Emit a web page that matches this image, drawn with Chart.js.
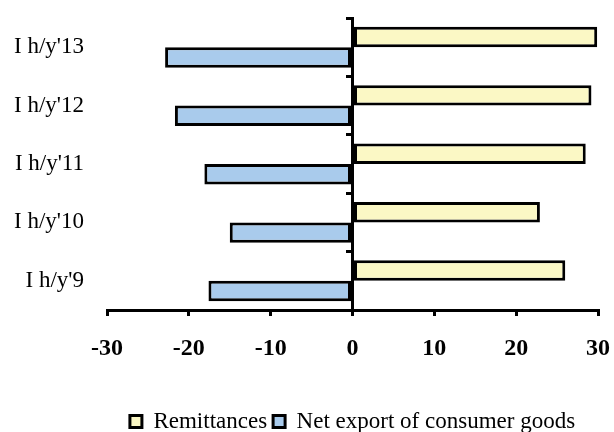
<!DOCTYPE html>
<html>
<head>
<meta charset="utf-8">
<script src="https://cdn.jsdelivr.net/npm/chart.js@4"></script>
<style>
  html, body { margin: 0; padding: 0; background: #fff; }
</style>
</head>
<body>
<canvas id="chart" width="614" height="432"></canvas>
<script>
const categories = ["I h/y'13", "I h/y'12", "I h/y'11", "I h/y'10", "I h/y'9"]
const remittances = [29.9, 29.2, 28.5, 22.9, 26.0]
const netExport = [-22.9, -21.7, -18.1, -15.0, -17.6]
const seriesNames = ["Remittances", "Net export of consumer goods"]
const xMin = -30
const xMax = 30
const xStep = 10

const serif = "'Liberation Serif', 'Times New Roman', serif"

// chart.js pads axes for their end labels; drop that so the plot box stays fixed
const noPad = s => {
  s.paddingLeft = 0
  s.paddingRight = 0
  s.paddingTop = 0
  s.paddingBottom = 0
}

new Chart(document.getElementById("chart"), {
  type: "bar",
  data: {
    labels: categories,
    datasets: [{
      label: seriesNames[0],
      data: remittances,
      backgroundColor: "#fbf8c5",
      borderColor: "#000",
      borderWidth: 3,
      borderSkipped: false
    }, {
      label: seriesNames[1],
      data: netExport,
      backgroundColor: "#a9cbec",
      borderColor: "#000",
      borderWidth: 3,
      borderSkipped: false
    }]
  },
  options: {
    indexAxis: "y",
    responsive: false,
    animation: false,
    devicePixelRatio: 1,
    layout: { padding: { top: 18, right: 16, left: 13, bottom: -11 } },
    datasets: { bar: { categoryPercentage: 0.7, barPercentage: 1 } },
    scales: {
      x: {
        min: xMin,
        max: xMax,
        ticks: {
          stepSize: xStep,
          color: "#000",
          padding: 18,
          font: { family: serif, size: 24, weight: "bold" }
        },
        grid: { drawOnChartArea: false, color: "#000", lineWidth: 3, tickLength: 6 },
        border: { color: "#000", width: 3 },
        afterFit: s => { noPad(s); s.height = 94 }
      },
      y: {
        ticks: {
          color: "#000",
          padding: 23,
          font: { family: serif, size: 23 }
        },
        grid: { display: false, drawTicks: false },
        border: { display: false },
        afterFit: s => { noPad(s); s.width = 94 }
      },
      y2: {
        type: "category",
        labels: categories,
        position: { x: 0 },
        offset: true,
        ticks: { display: false },
        grid: { drawOnChartArea: false, offset: true, color: "#000", lineWidth: 3, tickLength: 5 },
        border: { color: "#000", width: 3 },
        afterFit: s => { noPad(s); s.width = 0 }
      }
    },
    plugins: {
      legend: {
        position: "bottom",
        fullSize: false,
        labels: {
          color: "#000",
          boxWidth: 12,
          boxHeight: 12,
          padding: 6,
          font: { family: serif, size: 23 }
        }
      },
      tooltip: { enabled: false }
    }
  }
})
</script>
</body>
</html>
